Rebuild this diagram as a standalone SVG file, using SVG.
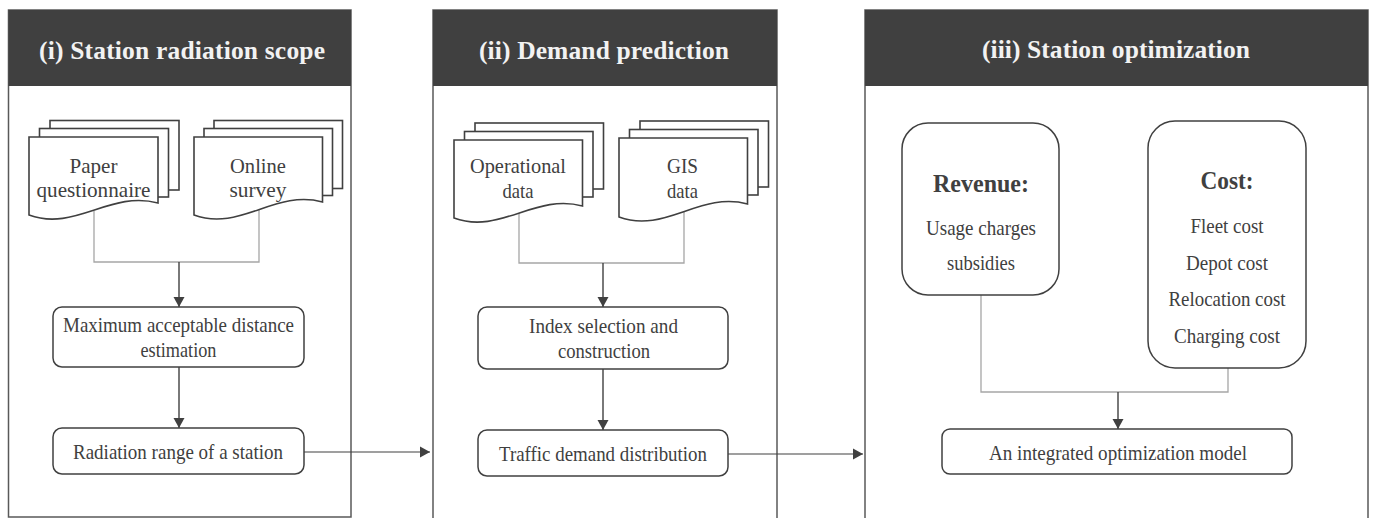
<svg xmlns="http://www.w3.org/2000/svg" width="1373" height="518" viewBox="0 0 1373 518">
  <defs>
    <marker id="arrow" markerUnits="userSpaceOnUse" markerWidth="11" markerHeight="12" refX="10" refY="6" orient="auto">
      <path d="M0,0.5 L10,6 L0,11.5 Z" fill="#404040"/>
    </marker>
    <style>
      .panel { fill: #ffffff; stroke: #595959; stroke-width: 1.5; }
      .header { fill: #404040; }
      .title { font-family: "Liberation Serif", "Times New Roman", serif; font-weight: bold; font-size: 25.5px; fill: #f2f2f2; text-anchor: middle; }
      .sheet { fill: #ffffff; stroke: #404040; stroke-width: 1.6; }
      .box { fill: #ffffff; stroke: #404040; stroke-width: 1.5; }
      .txt { font-family: "Liberation Serif", "Times New Roman", serif; font-size: 21px; fill: #404040; text-anchor: middle; }
      .bold { font-family: "Liberation Serif", "Times New Roman", serif; font-weight: bold; font-size: 25px; fill: #404040; text-anchor: middle; }
      .branch { fill: none; stroke: #a6a6a6; stroke-width: 1.3; }
      .flow { fill: none; stroke: #404040; stroke-width: 1.4; }
      .link { fill: none; stroke: #404040; stroke-width: 1.1; }
    </style>
  </defs>

  <!-- Panel frames with dark title bars -->
  <g id="panel-1">
    <rect class="panel" x="8.5" y="10" width="342.5" height="507"/>
    <rect class="header" x="8.5" y="10" width="342.5" height="76"/>
    <text class="title" x="182" y="59" textLength="286" lengthAdjust="spacing">(i) Station radiation scope</text>
  </g>
  <g id="panel-2">
    <rect class="panel" x="433" y="10" width="344" height="530"/>
    <rect class="header" x="433" y="10" width="344" height="76"/>
    <text class="title" x="604" y="59" textLength="250" lengthAdjust="spacing">(ii) Demand prediction</text>
  </g>
  <g id="panel-3">
    <rect class="panel" x="865" y="10" width="503" height="530"/>
    <rect class="header" x="865" y="10" width="503" height="76"/>
    <text class="title" x="1116" y="58" textLength="268" lengthAdjust="spacing">(iii) Station optimization</text>
  </g>

  <!-- Connectors -->
  <g id="connectors">
    <polyline class="branch" points="94,211 94,262 259,262 259,209"/>
    <line class="flow" x1="179" y1="262" x2="179" y2="307" marker-end="url(#arrow)"/>
    <line class="flow" x1="179" y1="367" x2="179" y2="428" marker-end="url(#arrow)"/>
    <line class="link" x1="304" y1="452" x2="430" y2="452" marker-end="url(#arrow)"/>

    <polyline class="branch" points="519,213 519,263 684,263 684,211"/>
    <line class="flow" x1="603" y1="263" x2="603" y2="307" marker-end="url(#arrow)"/>
    <line class="flow" x1="603" y1="369" x2="603" y2="430" marker-end="url(#arrow)"/>
    <line class="link" x1="728" y1="454" x2="863" y2="454" marker-end="url(#arrow)"/>

    <polyline class="branch" points="981,295 981,392 1228,392 1228,368"/>
    <line class="flow" x1="1118" y1="392" x2="1118" y2="429" marker-end="url(#arrow)"/>
  </g>

  <!-- Panel 1 nodes -->
  <g id="paper-questionnaire">
    <rect class="sheet" x="50" y="120.5" width="129" height="69.5"/>
    <rect class="sheet" x="39.5" y="128.5" width="129" height="68.5"/>
    <path class="sheet" d="M29,137 H158 V203 C110,190 75,232 29,215 Z"/>
    <text class="txt" x="93.5" y="173" textLength="48" lengthAdjust="spacingAndGlyphs">Paper</text>
    <text class="txt" x="93.5" y="197" textLength="114" lengthAdjust="spacingAndGlyphs">questionnaire</text>
  </g>
  <g id="online-survey">
    <rect class="sheet" x="214" y="120.5" width="128.5" height="68"/>
    <rect class="sheet" x="204" y="128.5" width="128.5" height="67"/>
    <path class="sheet" d="M194,137 H322.5 V202 C275,189 240,232 194,215 Z"/>
    <text class="txt" x="258" y="173" textLength="56" lengthAdjust="spacingAndGlyphs">Online</text>
    <text class="txt" x="258" y="197" textLength="57" lengthAdjust="spacingAndGlyphs">survey</text>
  </g>
  <g id="max-distance">
    <rect class="box" x="53" y="307" width="251" height="60" rx="9"/>
    <text class="txt" x="178.5" y="332" textLength="231" lengthAdjust="spacingAndGlyphs">Maximum acceptable distance</text>
    <text class="txt" x="178.5" y="357" textLength="76" lengthAdjust="spacingAndGlyphs">estimation</text>
  </g>
  <g id="radiation-range">
    <rect class="box" x="53" y="428" width="251" height="46" rx="9"/>
    <text class="txt" x="178" y="459" textLength="210" lengthAdjust="spacingAndGlyphs">Radiation range of a station</text>
  </g>

  <!-- Panel 2 nodes -->
  <g id="operational-data">
    <rect class="sheet" x="475" y="123" width="128.5" height="66"/>
    <rect class="sheet" x="464.5" y="131.5" width="128.5" height="65.5"/>
    <path class="sheet" d="M454,140 H582.5 V206 C535,193 500,235 454,218 Z"/>
    <text class="txt" x="518" y="173" textLength="96" lengthAdjust="spacingAndGlyphs">Operational</text>
    <text class="txt" x="518" y="198" textLength="31" lengthAdjust="spacingAndGlyphs">data</text>
  </g>
  <g id="gis-data">
    <rect class="sheet" x="640" y="121" width="128.5" height="66"/>
    <rect class="sheet" x="629.5" y="129.5" width="128.5" height="65.5"/>
    <path class="sheet" d="M619,138 H747.5 V204 C700,191 665,234 619,217 Z"/>
    <text class="txt" x="682.5" y="173" textLength="31" lengthAdjust="spacingAndGlyphs">GIS</text>
    <text class="txt" x="682.5" y="198" textLength="31" lengthAdjust="spacingAndGlyphs">data</text>
  </g>
  <g id="index-selection">
    <rect class="box" x="478" y="307" width="250" height="62" rx="9"/>
    <text class="txt" x="603.5" y="333" textLength="149" lengthAdjust="spacingAndGlyphs">Index selection and</text>
    <text class="txt" x="604" y="358" textLength="92" lengthAdjust="spacingAndGlyphs">construction</text>
  </g>
  <g id="traffic-demand">
    <rect class="box" x="478" y="430" width="250" height="46" rx="9"/>
    <text class="txt" x="603" y="461" textLength="208" lengthAdjust="spacingAndGlyphs">Traffic demand distribution</text>
  </g>

  <!-- Panel 3 nodes -->
  <g id="revenue">
    <rect class="box" x="902" y="123" width="157" height="172" rx="26"/>
    <text class="bold" x="981" y="192" textLength="96" lengthAdjust="spacingAndGlyphs">Revenue:</text>
    <text class="txt" x="981" y="235" textLength="110" lengthAdjust="spacingAndGlyphs">Usage charges</text>
    <text class="txt" x="981" y="270" textLength="68" lengthAdjust="spacingAndGlyphs">subsidies</text>
  </g>
  <g id="cost">
    <rect class="box" x="1148" y="121" width="158" height="247" rx="27"/>
    <text class="bold" x="1227" y="189" textLength="53" lengthAdjust="spacingAndGlyphs">Cost:</text>
    <text class="txt" x="1227" y="233" textLength="73" lengthAdjust="spacingAndGlyphs">Fleet cost</text>
    <text class="txt" x="1227" y="270" textLength="82" lengthAdjust="spacingAndGlyphs">Depot cost</text>
    <text class="txt" x="1227" y="306" textLength="117" lengthAdjust="spacingAndGlyphs">Relocation cost</text>
    <text class="txt" x="1227" y="343" textLength="106" lengthAdjust="spacingAndGlyphs">Charging cost</text>
  </g>
  <g id="integrated-model">
    <rect class="box" x="942" y="429" width="350" height="45" rx="8"/>
    <text class="txt" x="1118" y="460" textLength="258" lengthAdjust="spacingAndGlyphs">An integrated optimization model</text>
  </g>
</svg>
